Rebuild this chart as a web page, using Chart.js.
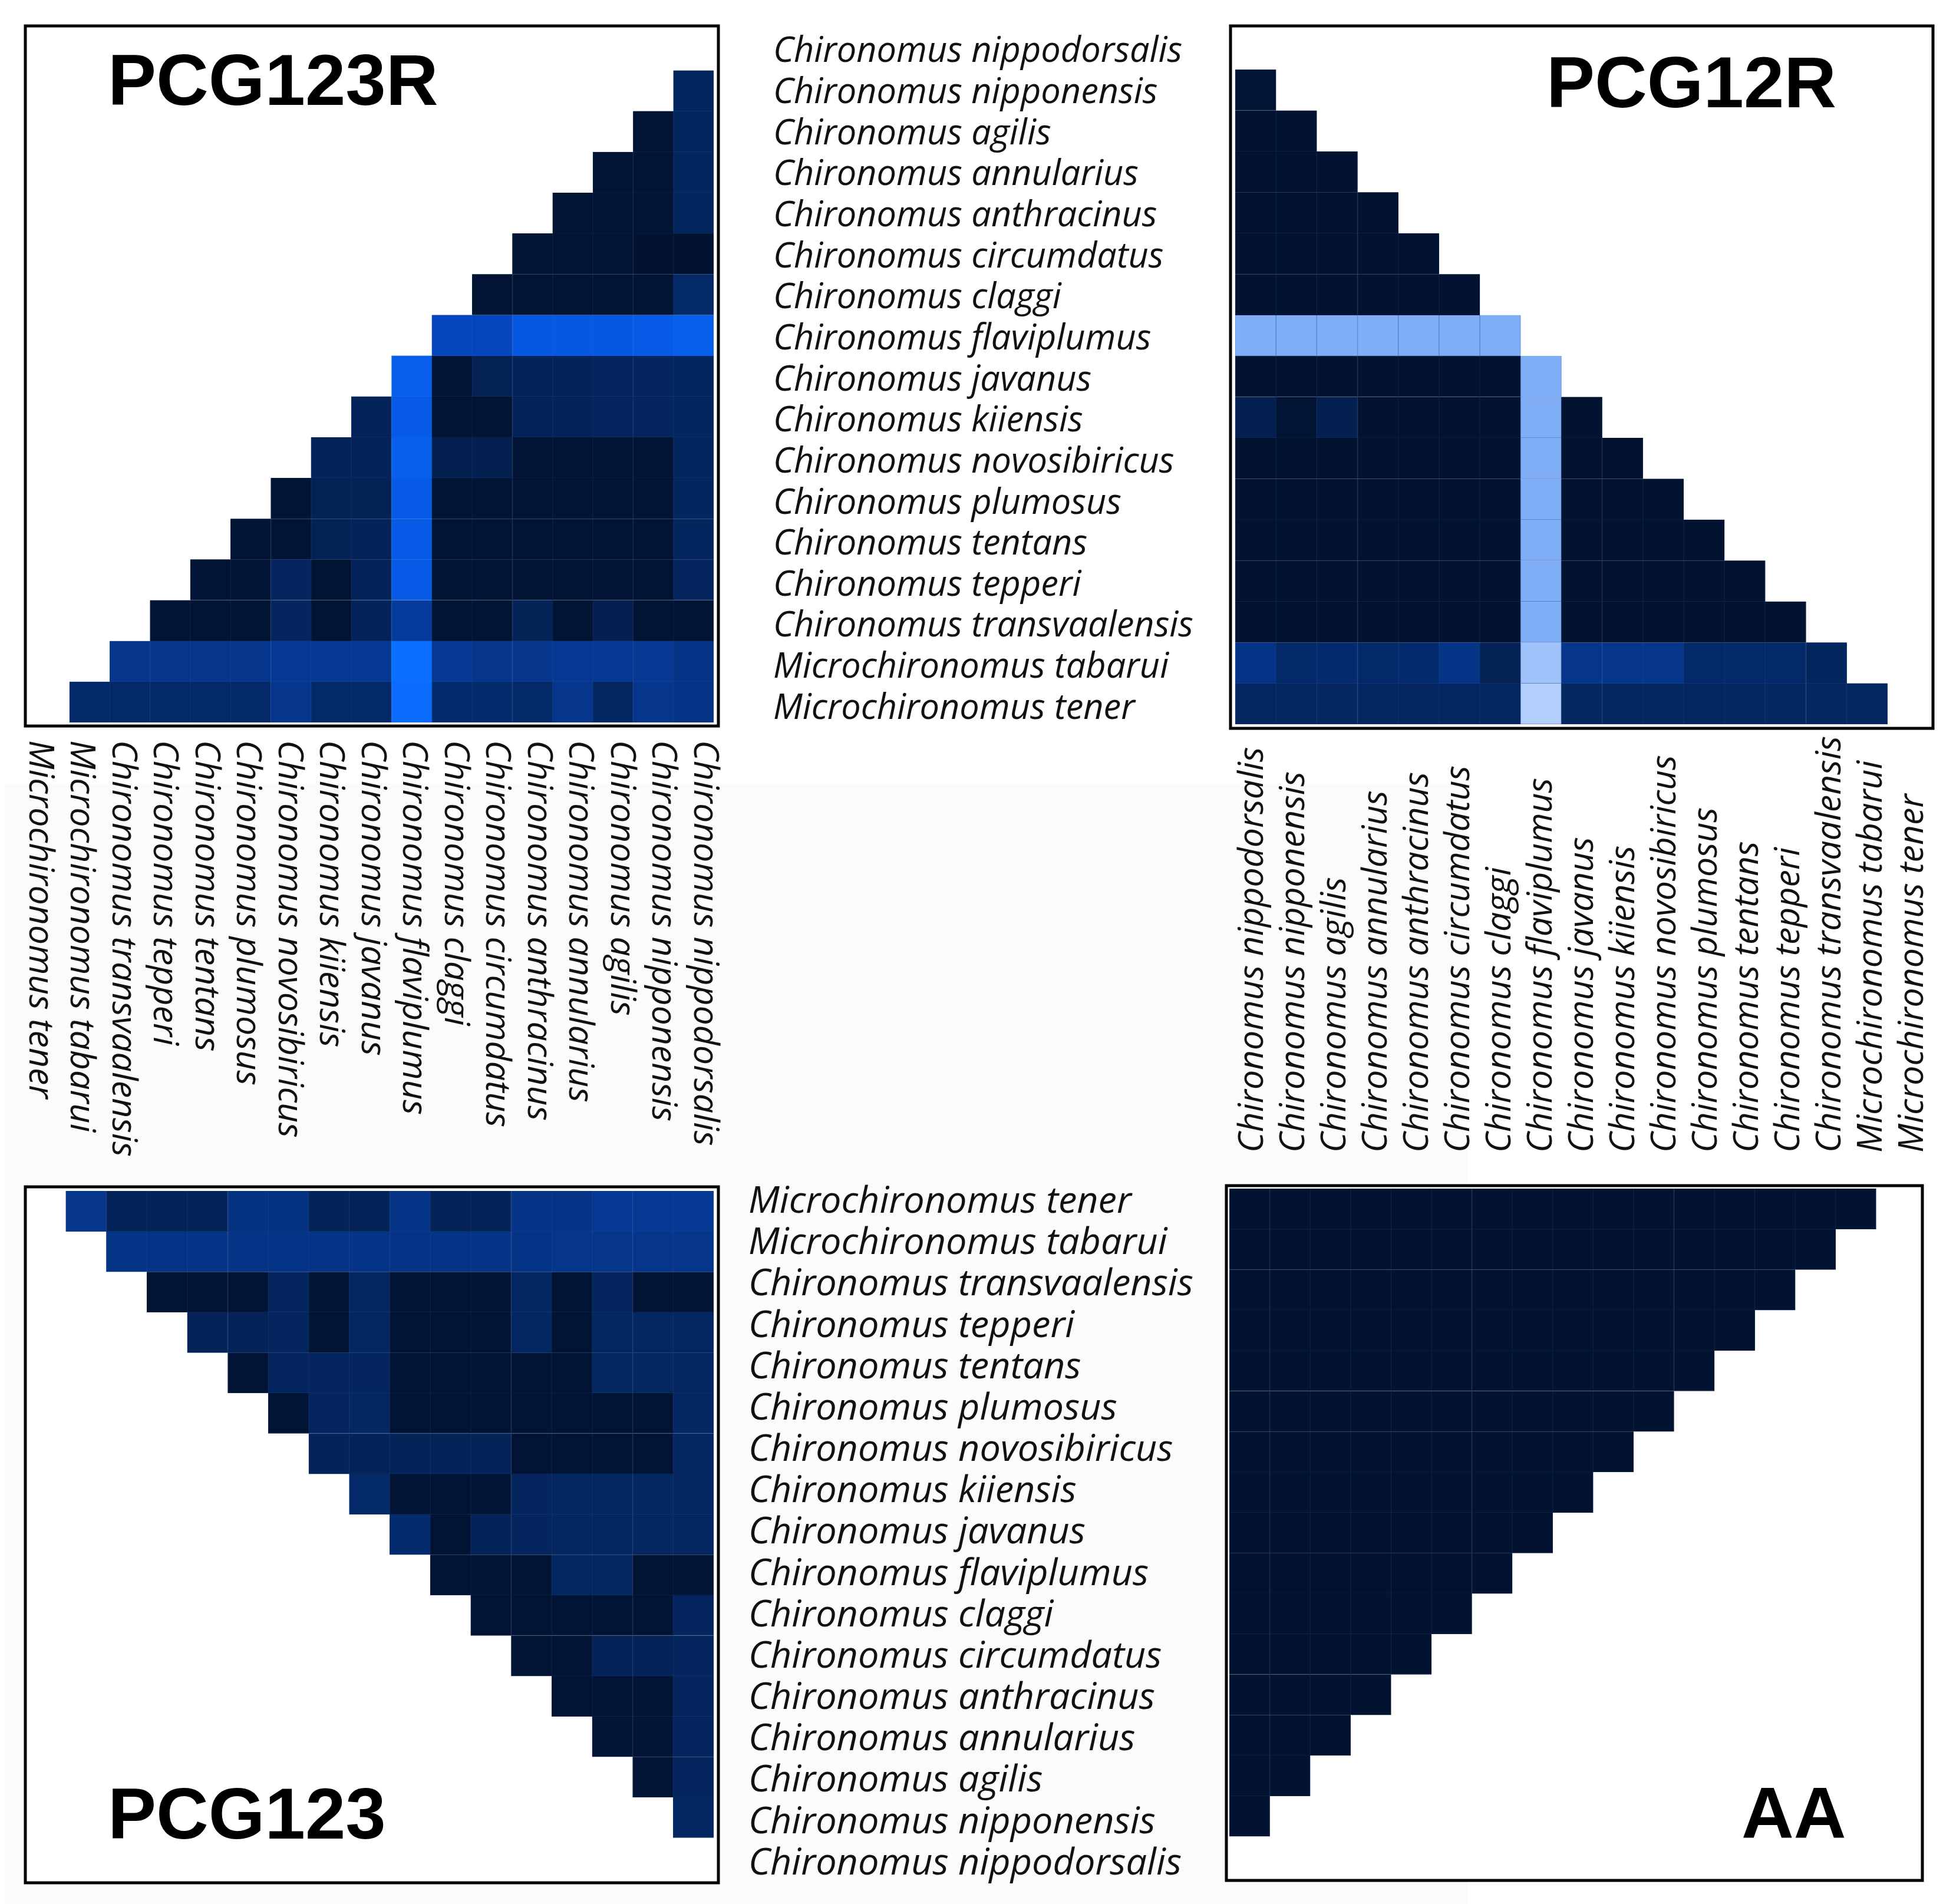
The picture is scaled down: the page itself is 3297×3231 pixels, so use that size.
<!DOCTYPE html>
<html>
<head>
<meta charset="utf-8">
<title>Sequence heterogeneity heatmaps</title>
<script src="https://cdn.jsdelivr.net/npm/chart.js@4"></script>
<style>
    html, body { margin: 0; padding: 0; background: #fff; }
    #wrap { position: relative; width: 3297px; height: 3231px; overflow: hidden; }
    #shade { position: absolute; left: 8px; top: 1330px; width: 2482px; height: 1901px; background: #fbfbfc; }
    canvas { position: absolute; left: 0; top: 0; }
</style>
</head>
<body>
<div id="wrap">
    <div id="shade"></div>
    <canvas id="pcg123r" width="3297" height="3231"></canvas>
    <canvas id="pcg12r" width="3297" height="3231"></canvas>
    <canvas id="pcg123" width="3297" height="3231"></canvas>
    <canvas id="aa" width="3297" height="3231"></canvas>
</div>
<script>
// Species order, top panels read downwards, bottom panels the other way round
var species = ['Chironomus nippodorsalis', 'Chironomus nipponensis', 'Chironomus agilis', 'Chironomus annularius',
    'Chironomus anthracinus', 'Chironomus circumdatus', 'Chironomus claggi', 'Chironomus flaviplumus',
    'Chironomus javanus', 'Chironomus kiiensis', 'Chironomus novosibiricus', 'Chironomus plumosus',
    'Chironomus tentans', 'Chironomus tepperi', 'Chironomus transvaalensis', 'Microchironomus tabarui',
    'Microchironomus tener'];
var speciesReversed = species.slice().reverse();

// Cell values, 0 (darkest) to 100 (lightest), one list per row
var pcg123rValues = [
    [],
    [25],
    [3, 25],
    [3, 3, 25],
    [3, 3, 3, 25],
    [3, 3, 3, 2, 2],
    [3, 3, 3, 3, 3, 28],
    [55, 55, 68, 68, 68, 70, 72],
    [72, 3, 20, 22, 22, 24, 24, 25],
    [22, 70, 3, 3, 22, 22, 24, 24, 25],
    [22, 22, 72, 18, 18, 3, 3, 3, 3, 25],
    [3, 20, 20, 70, 3, 3, 3, 3, 3, 3, 25],
    [4, 4, 20, 22, 70, 3, 3, 3, 3, 3, 3, 25],
    [4, 4, 24, 3, 22, 70, 3, 3, 3, 3, 3, 3, 24],
    [3, 3, 3, 24, 3, 22, 45, 3, 3, 20, 3, 18, 3, 3],
    [40, 40, 40, 40, 42, 42, 42, 78, 42, 40, 40, 42, 42, 42, 38],
    [28, 28, 28, 28, 28, 40, 28, 28, 77, 30, 30, 28, 40, 26, 40, 38]
];

var pcg12rValues = [
    [],
    [3],
    [2, 2],
    [2, 2, 2],
    [2, 2, 2, 2],
    [2, 2, 2, 2, 2],
    [2, 2, 2, 2, 2, 2],
    [90, 90, 90, 90, 90, 90, 90],
    [1, 1, 1, 1, 1, 1, 1, 90],
    [18, 3, 18, 2, 2, 2, 2, 90, 2],
    [2, 2, 2, 2, 2, 2, 2, 90, 2, 2],
    [2, 2, 2, 2, 2, 2, 2, 90, 2, 2, 2],
    [2, 2, 2, 2, 2, 2, 2, 90, 2, 2, 2, 2],
    [2, 2, 2, 2, 2, 2, 2, 90, 2, 2, 2, 2, 2],
    [2, 2, 2, 2, 2, 2, 2, 90, 2, 2, 2, 2, 2, 2],
    [38, 28, 30, 28, 30, 38, 20, 96, 40, 40, 40, 28, 28, 28, 25],
    [26, 26, 26, 26, 26, 26, 26, 100, 26, 26, 26, 26, 26, 26, 26, 26]
];

var pcg123Values = [
    [40, 22, 22, 22, 36, 36, 22, 22, 38, 22, 22, 38, 38, 42, 42, 42],
    [38, 38, 38, 38, 38, 38, 38, 38, 38, 38, 38, 40, 40, 40, 40],
    [3, 3, 4, 24, 3, 26, 3, 3, 3, 26, 4, 24, 3, 3],
    [22, 22, 24, 3, 26, 3, 3, 3, 26, 4, 26, 26, 26],
    [4, 24, 24, 24, 3, 3, 3, 4, 4, 26, 26, 26],
    [4, 24, 26, 3, 3, 3, 3, 3, 3, 3, 26],
    [22, 22, 22, 22, 22, 4, 4, 4, 4, 26],
    [28, 4, 4, 4, 24, 26, 26, 26, 26],
    [30, 4, 22, 24, 26, 26, 26, 26],
    [3, 3, 3, 26, 26, 3, 3],
    [3, 3, 4, 4, 4, 24],
    [3, 4, 22, 22, 24],
    [4, 3, 3, 24],
    [5, 5, 24],
    [4, 24],
    [26],
    []
];

var aaValues = [
    [2, 2, 2, 2, 2, 2, 2, 2, 2, 2, 2, 2, 2, 2, 2, 2],
    [2, 2, 2, 2, 2, 2, 2, 2, 2, 2, 2, 2, 2, 2, 2],
    [2, 2, 2, 2, 2, 2, 2, 2, 2, 2, 2, 2, 2, 2],
    [2, 2, 2, 2, 2, 2, 2, 2, 2, 2, 2, 2, 2],
    [2, 2, 2, 2, 2, 2, 2, 2, 2, 2, 2, 2],
    [2, 2, 2, 2, 2, 2, 2, 2, 2, 2, 2],
    [2, 2, 2, 2, 2, 2, 2, 2, 2, 2],
    [2, 2, 2, 2, 2, 2, 2, 2, 2],
    [2, 2, 2, 2, 2, 2, 2, 2],
    [2, 2, 2, 2, 2, 2, 2],
    [2, 2, 2, 2, 2, 2],
    [2, 2, 2, 2, 2],
    [2, 2, 2, 2],
    [2, 2, 2],
    [2, 2],
    [2],
    []
];

// value -> colour stops
var colourStops = [
    [0, 2, 17, 46], [25, 4, 38, 95], [40, 5, 54, 140], [55, 5, 70, 190],
    [70, 6, 90, 230], [78, 10, 110, 255], [90, 128, 175, 248], [100, 178, 206, 250]
];

function cellRgb(v) {
    for (var i = 1; i < colourStops.length; i++) {
        if (v <= colourStops[i][0]) {
            var a = colourStops[i - 1], b = colourStops[i];
            var t = (v - a[0]) / (b[0] - a[0]);
            return [1, 2, 3].map(function (k) { return a[k] + (b[k] - a[k]) * t; });
        }
    }
    return [178, 206, 250];
}

function rgbString(c) {
    return 'rgb(' + c.map(Math.round).join(',') + ')';
}

// thin cell edge: a touch lighter on dark cells, darker on the pale ones
// has to be opaque, chart.js paints the border under the fill
function cellEdge(v) {
    var mix = v > 85 ? [50, 90, 170] : [95, 130, 185];
    var w = v > 85 ? 0.55 : 0.12;
    return rgbString(cellRgb(v).map(function (c, k) { return c + (mix[k] - c) * w; }));
}

// Frame, panel name and the species labels
var panelDecor = {
    id: 'panelDecor',
    beforeDraw: function (chart, args, o) {
        // panels stay white on the shaded page
        chart.ctx.save();
        chart.ctx.fillStyle = '#fff';
        chart.ctx.fillRect(o.frame[0], o.frame[1], o.frame[2] - o.frame[0], o.frame[3] - o.frame[1]);
        chart.ctx.restore();
    },
    afterDraw: function (chart, args, o) {
        var ctx = chart.ctx;
        ctx.save();
        ctx.strokeStyle = '#000';
        ctx.lineWidth = 5;
        ctx.strokeRect(o.frame[0], o.frame[1], o.frame[2] - o.frame[0], o.frame[3] - o.frame[1]);

        ctx.fillStyle = '#000';
        ctx.textAlign = 'left';
        ctx.textBaseline = 'alphabetic';
        ctx.font = 'bold 123px "Liberation Sans"';
        ctx.fillText(o.name, o.nameAt[0], o.nameAt[1]);

        ctx.fillStyle = '#111';
        ctx.textBaseline = 'middle';
        if (o.rowLabels) {
            var ys = chart.scales.y, midY = (ys.top + ys.bottom) / 2;
            ctx.font = 'italic ' + o.rowLabels.size + 'px "Open Sans"';
            chart.data.yLabels.forEach(function (label, i) {
                var py = ys.getPixelForValue(i + 0.5);
                ctx.fillText(label, o.rowLabels.x, midY + (py - midY) * o.rowLabels.stretch + o.rowLabels.shift);
            });
        }
        if (o.colLabels) {
            var xs = chart.scales.x, midX = (xs.left + xs.right) / 2;
            ctx.font = 'italic ' + o.colLabels.size + 'px "Open Sans"';
            chart.data.labels.forEach(function (label, i) {
                var px = xs.getPixelForValue(i);
                ctx.save();
                ctx.translate(midX + (px - midX) * o.colLabels.stretch + o.colLabels.shift, o.colLabels.y);
                ctx.rotate(o.colLabels.angle * Math.PI / 180);
                ctx.fillText(label, 0, 0);
                ctx.restore();
            });
        }
        ctx.restore();
    }
};

function createHeatmap(canvasId, rowNames, colNames, values, rightAligned, area, decor) {
    var datasets = values.map(function (row, r) {
        var start = rightAligned ? colNames.length - row.length : 0;
        var data = colNames.map(function () { return null; });
        var colours = colNames.map(function () { return 'rgba(0,0,0,0)'; });
        var borders = colNames.map(function () { return 'rgba(0,0,0,0)'; });
        row.forEach(function (v, i) {
            data[start + i] = [r, r + 1];
            colours[start + i] = rgbString(cellRgb(v));
            borders[start + i] = cellEdge(v);
        });
        return {
            label: rowNames[r],
            data: data,
            backgroundColor: colours,
            borderColor: borders,
            borderWidth: 1,
            categoryPercentage: 1,
            barPercentage: 1,
            grouped: false
        };
    });

    return new Chart(document.getElementById(canvasId).getContext('2d'), {
        type: 'bar',
        data: { labels: colNames, yLabels: rowNames, datasets: datasets },
        plugins: [panelDecor],
        options: {
            responsive: false,
            maintainAspectRatio: false,
            devicePixelRatio: 1,
            animation: false,
            layout: { padding: { left: area[0], top: area[1], right: 3297 - area[2], bottom: 3231 - area[3] } },
            plugins: { legend: { display: false }, tooltip: { enabled: false }, panelDecor: decor },
            scales: {
                x: { type: 'category', display: false, offset: true, grid: { display: false } },
                y: { type: 'linear', display: false, min: 0, max: 17, reverse: true, grid: { display: false } }
            }
        }
    });
}

createHeatmap('pcg123r', species, speciesReversed, pcg123rValues, true, [49.7, 50.3, 1211, 1226], {
    frame: [43, 44, 1219, 1232],
    name: 'PCG123R',
    nameAt: [183, 178],
    rowLabels: { x: 1312, size: 59.5, stretch: 1.007, shift: 7.5 },
    colLabels: { y: 1256, size: 59, stretch: 1.032, shift: 0, angle: 90 }
});

createHeatmap('pcg12r', species, species, pcg12rValues, false, [2096, 48.6, 3272, 1229], {
    frame: [2088, 44, 3280, 1236],
    name: 'PCG12R',
    nameAt: [2624, 182],
    colLabels: { y: 1956, size: 59, stretch: 1.012, shift: 2.3, angle: -90 }
});

createHeatmap('pcg123', speciesReversed, speciesReversed, pcg123Values, true, [43, 2021, 1211, 3187], {
    frame: [43, 2014, 1219, 3195],
    name: 'PCG123',
    nameAt: [183, 3120],
    rowLabels: { x: 1270, size: 63, stretch: 1.023, shift: -2.5 }
});

createHeatmap('aa', speciesReversed, species, aaValues, false, [2086, 2017, 3252, 3185], {
    frame: [2081, 2012, 3262, 3191],
    name: 'AA',
    nameAt: [2955, 3119]
});
</script>
</body>
</html>
